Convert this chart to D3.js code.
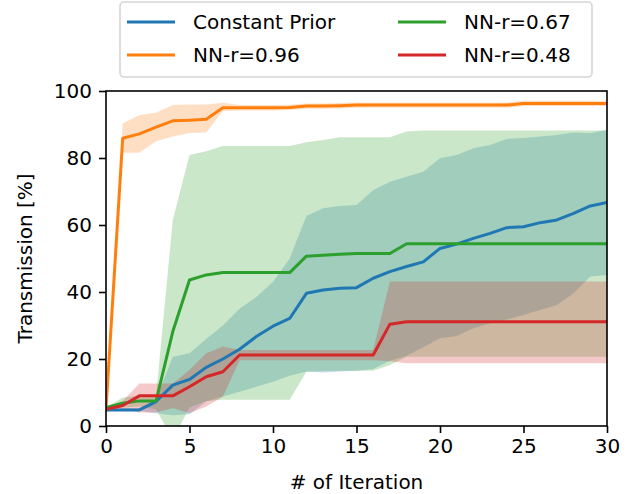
<!doctype html>
<html lang="en">
<head>
  <meta charset="utf-8">
  <title>Transmission vs iteration</title>
  <script src="https://d3js.org/d3.v7.min.js"></script>
  <style>
    body { margin: 0; background: #fff; }
    text { font-family: "DejaVu Sans", sans-serif; fill: #000; }
  </style>
</head>
<body>
  <div id="my_chart"></div>
<script>
  const width = 633;
  const height = 494;
  const margin = {top: 91, right: 26, bottom: 68, left: 106};
  const plot_w = width - margin.left - margin.right;
  const plot_h = height - margin.top - margin.bottom;

  // data (x = iteration 0..30)
  const iterations = d3.range(0, 31);
  const series_names = ['Constant Prior', 'NN-r=0.96', 'NN-r=0.67', 'NN-r=0.48'];
  const series_colors = ['#1f77b4', '#ff7f0e', '#2ca02c', '#d62728'];
  const x_ticks = [0, 5, 10, 15, 20, 25, 30];
  const y_ticks = [0, 20, 40, 60, 80, 100];

  const const_mean = [4.8, 4.8, 4.8, 7.3, 12.2, 13.9, 17.5, 20, 22.9, 26.7, 29.8, 32.1, 39.6, 40.6, 41.1, 41.3,
    44.1, 46.1, 47.6, 49.0, 53.0, 54.3, 56, 57.5, 59.2, 59.5, 60.7, 61.5, 63.5, 65.7, 66.7];
  const const_low = [4.5, 4.5, 4.5, 3.8, 3.2, 3.5, 7.3, 8.8, 10.2, 11.7, 13.2, 15, 16.3, 16, 16.3, 16.5,
    17, 19.5, 21, 23.5, 26.2, 26.9, 29.2, 30.7, 31.8, 33.1, 34.6, 36.1, 39.6, 44.6, 45.1];
  const const_high = [5.3, 5.3, 5.3, 8, 20.7, 21.7, 26, 30, 35, 38.5, 43, 50, 62.7, 65, 65.7, 66,
    70.4, 72.9, 74.4, 75.9, 79.9, 80.9, 82.9, 83.9, 85.7, 86, 86.4, 86.9, 87.6, 87.4, 88.4];

  const nn96_mean = [5, 85.9, 87.2, 89.2, 91.1, 91.3, 91.6, 95.0, 95.0, 95.0, 95.0, 95.1, 95.5, 95.5, 95.6, 95.8,
    95.8, 95.8, 95.8, 95.8, 95.8, 95.8, 95.8, 95.8, 95.8, 96.3, 96.3, 96.3, 96.3, 96.3, 96.3];
  const nn96_low = [4.5, 81.6, 81.6, 85, 86.4, 87.5, 87.6, 94, 94.2, 94.2, 94.2, 94.3, 94.7, 94.7, 94.8, 95,
    95, 95, 95, 95, 95, 95, 95, 95, 95, 95.5, 95.5, 95.5, 95.5, 95.5, 95.5];
  const nn96_high = [5.5, 90.3, 92.8, 93.5, 95.8, 96, 96, 96.5, 95.8, 95.8, 95.8, 95.9, 96.3, 96.3, 96.4, 96.6,
    96.6, 96.6, 96.6, 96.6, 96.6, 96.6, 96.6, 96.6, 96.6, 97.1, 97.1, 97.1, 97.1, 97.1, 97.1];

  const nn67_mean = [5.5, 6.8, 7.5, 7.5, 28.2, 43.6, 45.1, 45.8, 45.8, 45.8, 45.8, 45.8, 50.7, 51.0, 51.3, 51.5,
    51.5, 51.5, 54.4, 54.4, 54.4, 54.4, 54.4, 54.4, 54.4, 54.4, 54.4, 54.4, 54.4, 54.4, 54.4];
  const nn67_low = [4.8, 5.5, 5.8, 5, -4, 5.5, 7.5, 7.8, 7.8, 7.8, 7.8, 7.8, 16.2, 16.4, 16.5, 16.5,
    16.5, 18.2, 20.7, 20.7, 20.7, 20.7, 20.7, 20.7, 20.7, 20.7, 20.7, 20.7, 20.7, 20.7, 20.7];
  const nn67_high = [5.5, 8.5, 9, 9, 61.5, 80.9, 82, 83.6, 83.6, 83.6, 83.6, 83.6, 84.7, 85.4, 86.2, 86.2,
    86.2, 86.2, 87.9, 88.2, 88.2, 88.2, 88.2, 88.2, 88.2, 88.2, 88.2, 88.2, 88.2, 88.2, 88.2];

  const nn48_mean = [5, 6.1, 9, 9, 9, 11.7, 14.7, 16.2, 21.2, 21.2, 21.2, 21.2, 21.2, 21.2, 21.2, 21.2,
    21.2, 30.4, 31.1, 31.1, 31.1, 31.1, 31.1, 31.1, 31.1, 31.1, 31.1, 31.1, 31.1, 31.1, 31.1];
  const nn48_low = [4.5, 5, 4, 4, 5.4, 3.8, 5.8, 8.8, 19.6, 19.6, 19.6, 19.6, 19.6, 19.6, 19.6, 19.6,
    19.6, 19.3, 18.7, 18.7, 18.7, 18.7, 18.7, 18.7, 18.7, 18.7, 18.7, 18.7, 18.7, 18.7, 18.7];
  const nn48_high = [5.5, 7.5, 12.7, 12.7, 12.7, 16.7, 21.7, 23.7, 22.7, 22.7, 22.7, 22.7, 22.7, 22.7, 22.7, 22.7,
    22.7, 43.1, 43.1, 43.1, 43.1, 43.1, 43.1, 43.1, 43.1, 43.1, 43.1, 43.1, 43.1, 43.1, 43.1];

  const means = [const_mean, nn96_mean, nn67_mean, nn48_mean];
  const lows = [const_low, nn96_low, nn67_low, nn48_low];
  const highs = [const_high, nn96_high, nn67_high, nn48_high];

  // scales
  const x = d3.scaleLinear().domain([0, 30]).range([0, plot_w]);
  const y = d3.scaleLinear().domain([0, 100]).range([plot_h, 0]);

  const svg = d3.select('#my_chart').append('svg')
    .attr('width', width)
    .attr('height', height);

  svg.append('defs').append('clipPath')
    .attr('id', 'plot_clip')
    .append('rect')
      .attr('width', plot_w)
      .attr('height', plot_h);

  const g = svg.append('g')
    .attr('transform', 'translate(' + margin.left + ',' + margin.top + ')');

  const plot = g.append('g').attr('clip-path', 'url(#plot_clip)');

  // bands
  const area = (lo, hi) => d3.area()
    .x((d) => x(d))
    .y0((d, i) => y(lo[i]))
    .y1((d, i) => y(hi[i]));

  series_names.forEach((name, k) => {
    plot.append('path')
      .datum(iterations)
      .attr('fill', series_colors[k])
      .attr('fill-opacity', 0.25)
      .attr('stroke', 'none')
      .attr('d', area(lows[k], highs[k]));
  });

  // mean lines
  series_names.forEach((name, k) => {
    const line = d3.line()
      .x((d) => x(d))
      .y((d, i) => y(means[k][i]));
    plot.append('path')
      .datum(iterations)
      .attr('fill', 'none')
      .attr('stroke', series_colors[k])
      .attr('stroke-width', 3)
      .attr('stroke-linejoin', 'round')
      .attr('d', line);
  });

  // axes
  const x_axis = g.append('g')
    .attr('transform', 'translate(0,' + plot_h + ')')
    .call(d3.axisBottom(x).tickValues(x_ticks).tickSize(7).tickPadding(6));
  const y_axis = g.append('g')
    .call(d3.axisLeft(y).tickValues(y_ticks).tickSize(7).tickPadding(7));
  [x_axis, y_axis].forEach((a) => {
    a.select('.domain').remove();
    a.selectAll('line').attr('stroke', '#000').attr('stroke-width', 1.6);
    a.selectAll('text').style('font-size', '20px').style('font-family', '"DejaVu Sans", sans-serif');
  });

  // frame
  g.append('rect')
    .attr('width', plot_w)
    .attr('height', plot_h)
    .attr('fill', 'none')
    .attr('stroke', '#000')
    .attr('stroke-width', 1.6);

  // axis labels
  svg.append('text')
    .attr('x', margin.left + plot_w / 2)
    .attr('y', 489)
    .attr('text-anchor', 'middle')
    .style('font-size', '20px')
    .text('# of Iteration');
  svg.append('text')
    .attr('transform', 'translate(32,' + (margin.top + plot_h / 2) + ') rotate(-90)')
    .attr('text-anchor', 'middle')
    .style('font-size', '20px')
    .text('Transmission [%]');

  // legend
  const legend = svg.append('g');
  legend.append('rect')
    .attr('x', 120)
    .attr('y', 2)
    .attr('width', 472)
    .attr('height', 75)
    .attr('rx', 4)
    .attr('fill', '#fff')
    .attr('fill-opacity', 0.8)
    .attr('stroke', '#d6d6d6')
    .attr('stroke-width', 1.6);

  const legend_pos = [[127, 22], [127, 55], [398, 22], [398, 55]];
  series_names.forEach((name, k) => {
    const [lx, ly] = legend_pos[k];
    legend.append('line')
      .attr('x1', lx).attr('x2', lx + 48)
      .attr('y1', ly).attr('y2', ly)
      .attr('stroke', series_colors[k])
      .attr('stroke-width', 3);
    legend.append('text')
      .attr('x', lx + 66)
      .attr('y', ly + 7)
      .style('font-size', '20px')
      .text(name);
  });
</script>
</body>
</html>
